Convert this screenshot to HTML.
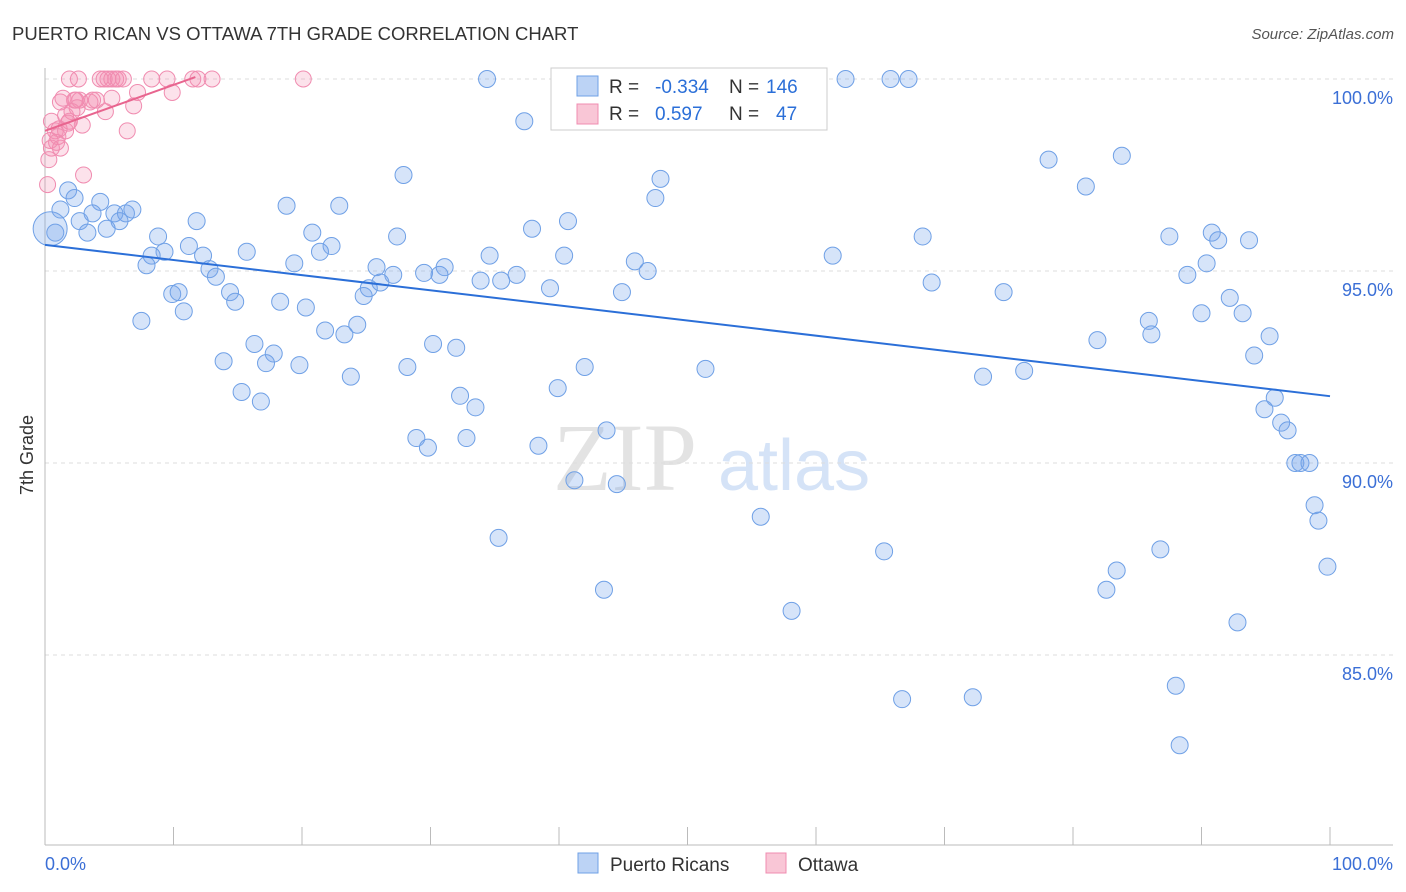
<!DOCTYPE html>
<html><head><meta charset="utf-8"><style>
body{margin:0;background:#fff;font-family:"Liberation Sans",sans-serif}
svg{display:block}
</style></head><body>
<svg id="chart" width="1406" height="892">
<text x="12" y="40" font-size="18.5" fill="#333">PUERTO RICAN VS OTTAWA 7TH GRADE CORRELATION CHART</text>
<text x="1394" y="39" font-size="15" fill="#555" font-style="italic" text-anchor="end">Source: ZipAtlas.com</text>
<g>
<text x="553" y="490" font-size="96" font-family="Liberation Serif,serif" fill="#e3e3e3">ZIP</text>
<text x="718" y="490" font-size="72" fill="#d5e3f7">atlas</text>
</g>
<text transform="translate(33,455) rotate(-90)" font-size="18" fill="#333" text-anchor="middle">7th Grade</text>
<g id="grid"></g>
<g id="axes"></g>
<g id="marks"></g>
<g>
<rect x="551" y="68" width="276" height="62" fill="#fff" stroke="#ccc"/>
<rect x="577" y="76" width="21" height="20" fill="#bcd3f5" stroke="#6fa0e6"/>
<rect x="577" y="104" width="21" height="20" fill="#f9c6d6" stroke="#f08cb0"/>
<text x="609" y="93" font-size="19" fill="#333">R =</text>
<text x="655" y="93" font-size="19" fill="#2b6fd8">-0.334</text>
<text x="729" y="93" font-size="19" fill="#333">N =</text>
<text x="766" y="93" font-size="19" fill="#2b6fd8">146</text>
<text x="609" y="120" font-size="19" fill="#333">R =</text>
<text x="655" y="120" font-size="19" fill="#2b6fd8">0.597</text>
<text x="729" y="120" font-size="19" fill="#333">N =</text>
<text x="776" y="120" font-size="19" fill="#2b6fd8">47</text>
</g>
<g>
<rect x="578" y="853" width="20" height="20" fill="#bcd3f5" stroke="#6fa0e6"/>
<text x="610" y="871" font-size="19" fill="#333">Puerto Ricans</text>
<rect x="766" y="853" width="20" height="20" fill="#f9c6d6" stroke="#f08cb0"/>
<text x="798" y="871" font-size="19" fill="#333">Ottawa</text>
</g>
<text x="45" y="870" font-size="18" fill="#3b6fd6">0.0%</text>
<text x="1393" y="870" font-size="18" fill="#3b6fd6" text-anchor="end">100.0%</text>
</svg>
<script>
const yTicks=[100,95,90,85];
const yTickLabels=["100.0%","95.0%","90.0%","85.0%"];
const xTicks=[0,10,20,30,40,50,60,70,80,90,100];
const blueX=[34.4,49.0,53.5,59.5,62.3,65.8,67.2,37.3,78.1,83.8,81.0,27.9,47.9,47.5,1.8,1.2,2.3,4.3,3.7,2.7,5.4,6.3,6.8,5.8,4.8,3.3,0.8,11.8,18.8,22.9,20.8,27.4,37.9,40.7,68.3,87.5,90.8,91.3,93.7,8.8,11.2,15.7,22.3,21.4,9.3,8.3,7.9,12.3,12.8,13.3,19.4,25.8,27.1,29.5,31.1,30.7,34.6,36.7,35.5,33.9,40.4,45.9,46.9,61.3,90.4,88.9,69.0,74.6,92.2,93.2,90.0,25.2,26.1,24.8,14.4,9.9,10.4,14.8,18.3,20.3,10.8,7.5,21.8,23.3,24.3,39.3,44.9,85.9,86.1,95.3,81.9,94.1,16.3,17.8,13.9,17.2,19.8,30.2,32.0,28.2,23.8,42.0,51.4,73.0,76.2,95.7,94.9,15.3,16.8,32.3,33.5,39.9,28.9,29.8,32.8,38.4,43.7,96.2,96.7,97.3,97.7,98.4,41.2,44.5,98.8,99.1,55.7,35.3,65.3,86.8,83.4,99.8,43.5,82.6,58.1,92.8,66.7,72.2,88.0,88.3];
const blueY=[100,100,100,100,100,100,100,98.9,97.9,98.0,97.2,97.5,97.4,96.9,97.1,96.6,96.9,96.8,96.5,96.3,96.5,96.5,96.6,96.3,96.1,96.0,96.0,96.3,96.7,96.7,96.0,95.9,96.1,96.3,95.9,95.9,96.0,95.8,95.8,95.9,95.65,95.5,95.65,95.5,95.5,95.4,95.15,95.4,95.05,94.85,95.2,95.1,94.9,94.95,95.1,94.9,95.4,94.9,94.75,94.75,95.4,95.25,95.0,95.4,95.2,94.9,94.7,94.45,94.3,93.9,93.9,94.55,94.7,94.35,94.45,94.4,94.45,94.2,94.2,94.05,93.95,93.7,93.45,93.35,93.6,94.55,94.45,93.7,93.35,93.3,93.2,92.8,93.1,92.85,92.65,92.6,92.55,93.1,93.0,92.5,92.25,92.5,92.45,92.25,92.4,91.7,91.4,91.85,91.6,91.75,91.45,91.95,90.65,90.4,90.65,90.45,90.85,91.05,90.85,90.0,90.0,90.0,89.55,89.45,88.9,88.5,88.6,88.05,87.7,87.75,87.2,87.3,86.7,86.7,86.15,85.85,83.85,83.9,84.2,82.65];
const bigX=[0.4], bigY=[96.1];
const pinkX=[1.9,2.6,4.3,4.6,4.9,5.2,5.5,5.7,6.1,8.3,9.5,11.5,11.9,13.0,20.1,9.9,7.2,5.2,1.2,2.3,2.7,3.5,4.0,1.4,2.4,3.7,2.5,4.7,6.9,1.6,2.1,1.9,1.1,1.6,1.8,2.9,0.5,0.8,1.0,6.4,0.4,1.2,0.5,0.9,3.0,0.3,0.2];
const pinkY=[100,100,100,100,100,100,100,100,100,100,100,100,100,100,100,99.65,99.65,99.5,99.4,99.45,99.45,99.4,99.45,99.5,99.45,99.45,99.25,99.15,99.3,99.05,99.15,98.9,98.7,98.65,98.85,98.8,98.9,98.65,98.5,98.65,98.4,98.2,98.2,98.35,97.5,97.9,97.25];
const blueTrend=[[0,95.68],[100,91.74]];
const pinkTrend=[[0,98.65],[11.7,100.05]];
const NS="http://www.w3.org/2000/svg";
const sx=v=>45+v*12.85;
const sy=v=>79+(100-v)*38.4;
function mk(tag,attrs,parent){const e=document.createElementNS(NS,tag);for(const k in attrs)e.setAttribute(k,attrs[k]);parent.appendChild(e);return e;}
const grid=document.getElementById('grid'),axes=document.getElementById('axes'),marks=document.getElementById('marks');
yTicks.forEach((t,i)=>{
 const l=mk('line',{x1:45,x2:1393,y1:sy(t),y2:sy(t),stroke:'#ddd','stroke-dasharray':'4,4'},grid);
 
 
 const tx=mk('text',{x:1393,y:sy(t)+25,'font-size':18,fill:'#3b6fd6','text-anchor':'end'},grid);
 tx.textContent=yTickLabels[i];
 
 
});
const ya=mk('line',{x1:45,x2:45,y1:68,y2:845,stroke:'#bbb'},axes);


const xa=mk('line',{x1:45,x2:1393,y1:845,y2:845,stroke:'#bbb'},axes);


xTicks.forEach(t=>{
 const l=mk('line',{x1:sx(t),x2:sx(t),y1:827,y2:845,stroke:'#bbb'},axes);
 
 
});
function dots(xs,ys,r,fill,stroke,name){
 xs.forEach((x,i)=>{
  const c=mk('circle',{cx:sx(x),cy:sy(ys[i]),r:r,fill:fill,stroke:stroke,'stroke-width':1},marks);
  
  
 });
}
dots(blueX,blueY,8.5,'rgba(120,165,235,0.3)','#6fa0e6','puerto-rican-point');
dots(bigX,bigY,17,'rgba(120,165,235,0.3)','#6fa0e6','puerto-rican-point');
dots(pinkX,pinkY,8,'rgba(245,140,175,0.25)','#f08cb0','ottawa-point');
const bl=mk('line',{x1:sx(blueTrend[0][0]),y1:sy(blueTrend[0][1]),x2:sx(blueTrend[1][0]),y2:sy(blueTrend[1][1]),stroke:'#2b6fd8','stroke-width':2},marks);


const pl=mk('line',{x1:sx(pinkTrend[0][0]),y1:sy(pinkTrend[0][1]),x2:sx(pinkTrend[1][0]),y2:sy(pinkTrend[1][1]),stroke:'#e8658f','stroke-width':2},marks);


</script>
</body></html>
